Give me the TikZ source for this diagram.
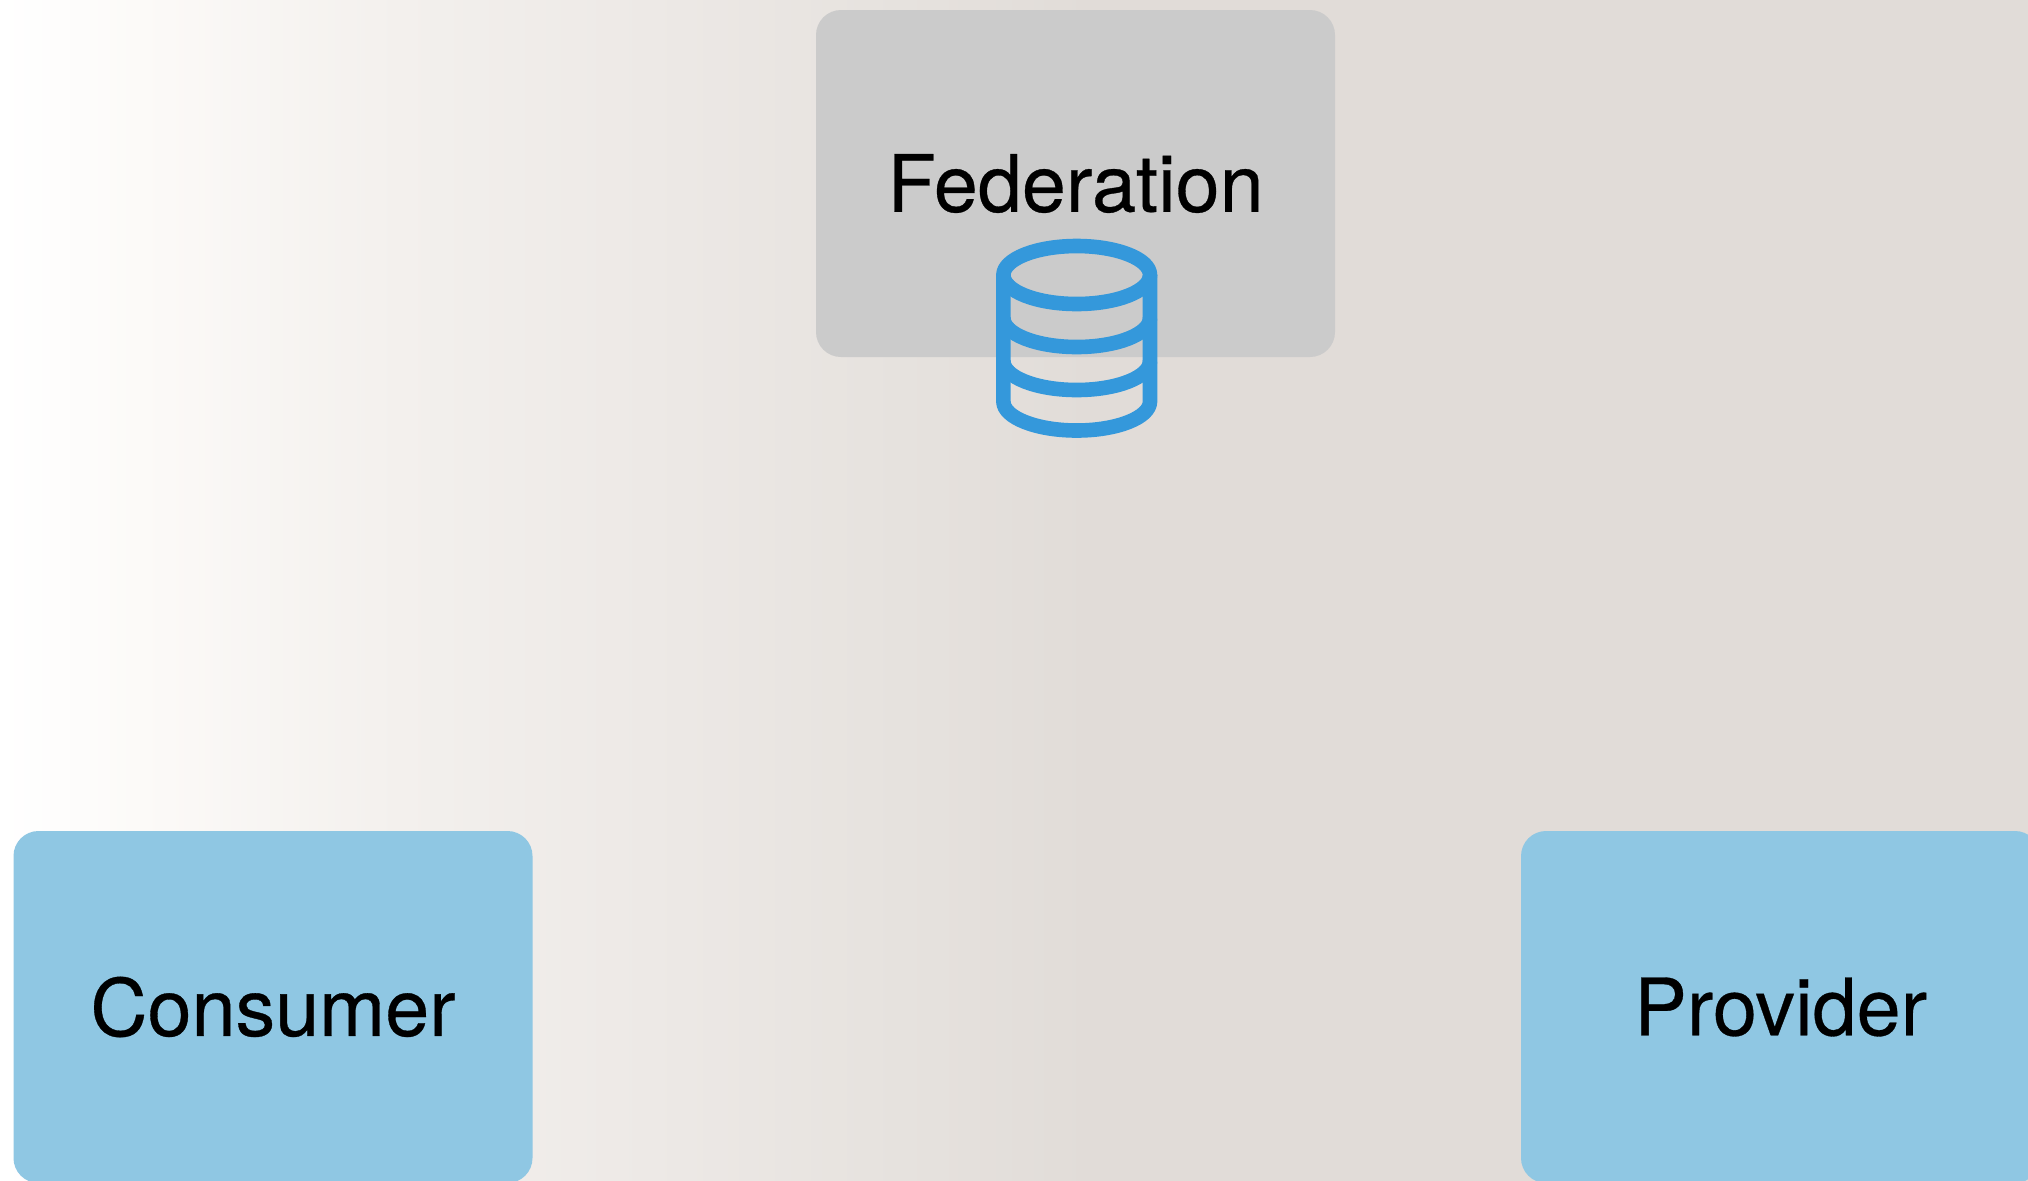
\documentclass[tikz,border=0pt]{standalone}
\usepackage{fontspec}
\setmainfont[FakeBold=0.4]{TeX Gyre Heros}
\definecolor{bgA}{HTML}{FCFAF8}
\definecolor{bgB}{HTML}{F3F0ED}
\definecolor{bgC}{HTML}{EDE9E6}
\definecolor{bgE}{HTML}{E6E2DE}
\definecolor{bgD}{HTML}{E1DCD8}
\definecolor{fedgrey}{HTML}{CBCBCB}
\definecolor{boxblue}{HTML}{8FC7E3}
\definecolor{dbblue}{HTML}{3498DB}
\pgfdeclarehorizontalshading{bgfade}{100bp}{
  color(0bp)=(white);
  color(25bp)=(white);
  color(28.45bp)=(bgA);
  color(34.86bp)=(bgB);
  color(41bp)=(bgC);
  color(47.2bp)=(bgE);
  color(51.9bp)=(bgD);
  color(75bp)=(bgD);
  color(100bp)=(bgD)}
\tikzset{
  actorbox/.style={rectangle,rounded corners=12.5pt,inner sep=0pt,draw=none,
    minimum width=259.5pt,minimum height=173.5pt,text=black,font=\fontsize{39.6pt}{46pt}\selectfont},
  dbline/.style={draw=dbblue,line width=7.3pt,line join=round}
}
\begin{document}
\begin{tikzpicture}[x=0.5pt,y=-0.5pt]
\clip (0,0) rectangle (2028,1180);
\shade[shading=bgfade] (0,0) rectangle (2028,1180);
\node[actorbox,fill=fedgrey] (federation) at (1075.5,183.5) {Federation};
\node[actorbox,fill=boxblue,minimum height=176pt] (consumer) at (273,1007) {Consumer};
\node[actorbox,fill=boxblue,minimum height=176pt] (provider) at (1780.5,1007) {Provider};
% database icon
\draw[dbline] (1076.7,275) ellipse [x radius=73.3,y radius=29];
\draw[dbline] (1003.4,275) -- (1003.4,401.5)
  arc[start angle=180,end angle=360,x radius=73.3,y radius=-29] -- (1150,275);
\draw[dbline] (1003.4,318) arc[start angle=180,end angle=360,x radius=73.3,y radius=-29];
\draw[dbline] (1003.4,361) arc[start angle=180,end angle=360,x radius=73.3,y radius=-29];
\end{tikzpicture}
\end{document}
